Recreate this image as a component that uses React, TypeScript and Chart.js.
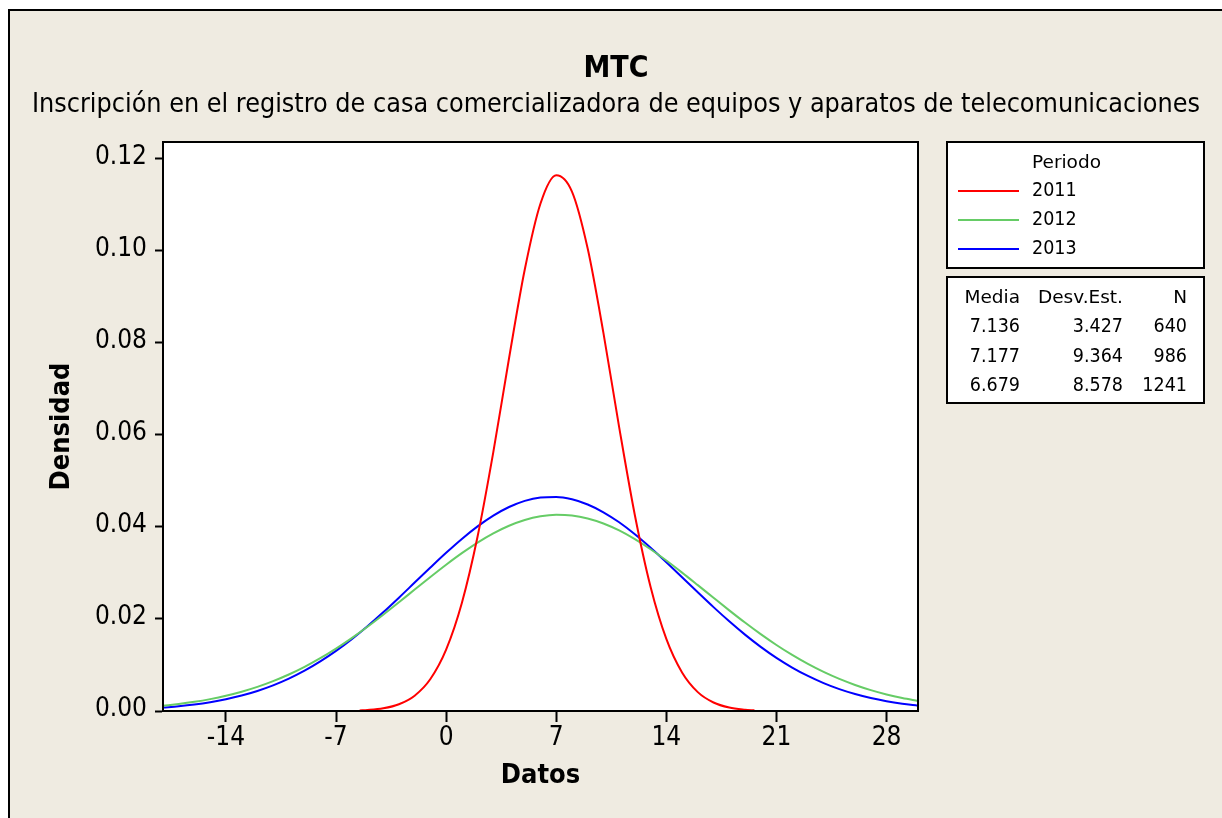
import React, { useEffect, useRef } from 'react';
import { Chart, registerables } from 'chart.js';

Chart.register(...registerables);

const FONT = "'DejaVu Sans Condensed', 'DejaVu Sans', sans-serif";
const FONT_WIDE = "'DejaVu Sans', sans-serif";

const titleText = 'MTC';
const subtitleText =
  'Inscripción en el registro de casa comercializadora de equipos y aparatos de telecomunicaciones';
const xAxisTitle = 'Datos';
const yAxisTitle = 'Densidad';
const legendTitle = 'Periodo';
const seriesNames = ['2011', '2012', '2013'];
const seriesColors = ['#FF0000', '#66CC66', '#0000FF'];
const statsHeader = ['Media', 'Desv.Est.', 'N'];
const statsMedia = ['7.136', '7.177', '6.679'];
const statsDesv = ['3.427', '9.364', '8.578'];
const statsN = ['640', '986', '1241'];

const xTicks = [-14, -7, 0, 7, 14, 21, 28];
const yTicks = [0, 0.02, 0.04, 0.06, 0.08, 0.1, 0.12];

// 2011 curve
const x2011 = [-5.5, -5, -4, -3, -2, -1, 0, 1, 2, 3, 4, 5, 6, 7, 8, 9, 10, 11, 12, 13, 14, 15, 16, 17, 18, 19, 19.6];
const y2011 = [
  0.00013, 0.00022, 0.00059, 0.00147, 0.00333, 0.00695, 0.01332, 0.02344, 0.03787, 0.05619, 0.07659,
  0.09585, 0.11018, 0.11632, 0.11277, 0.1004, 0.0821, 0.06165, 0.04251, 0.02693, 0.01566, 0.00837,
  0.0041, 0.00185, 0.00076, 0.00029, 0.00014,
];

// 2012 and 2013 curves
const xWide = [
  -18, -17, -16, -15, -14, -13, -12, -11, -10, -9, -8, -7, -6, -5, -4, -3, -2, -1, 0, 1, 2, 3, 4, 5, 6, 7,
  8, 9, 10, 11, 12, 13, 14, 15, 16, 17, 18, 19, 20, 21, 22, 23, 24, 25, 26, 27, 28, 29, 30,
];
const y2012 = [
  0.00115, 0.00152, 0.00199, 0.00258, 0.0033, 0.00418, 0.00523, 0.00648, 0.00792, 0.00958, 0.01146,
  0.01355, 0.01583, 0.01829, 0.0209, 0.0236, 0.02636, 0.0291, 0.03176, 0.03427, 0.03657, 0.03857,
  0.04022, 0.04147, 0.04227, 0.0426, 0.04244, 0.0418, 0.04071, 0.0392, 0.03731, 0.03511, 0.03267,
  0.03005, 0.02733, 0.02458, 0.02185, 0.0192, 0.01668, 0.01433, 0.01217, 0.01022, 0.00848, 0.00696,
  0.00565, 0.00453, 0.00359, 0.00282, 0.00219,
];
const y2013 = [
  0.00074, 0.00103, 0.00141, 0.00191, 0.00255, 0.00335, 0.00435, 0.00556, 0.00702, 0.00875, 0.01076,
  0.01304, 0.0156, 0.01841, 0.02143, 0.02461, 0.02788, 0.03115, 0.03435, 0.03736, 0.04008, 0.04242,
  0.04429, 0.04563, 0.04636, 0.04648, 0.04596, 0.04484, 0.04315, 0.04097, 0.03837, 0.03545, 0.03231,
  0.02905, 0.02577, 0.02255, 0.01947, 0.01658, 0.01393, 0.01154, 0.00944, 0.00761, 0.00606, 0.00475,
  0.00368, 0.00281, 0.00212, 0.00158, 0.00116,
];

const xMin = -18;
const xMax = 30;
const yMin = 0;
const yMax = 0.12354;

const toPoints = (xs: number[], ys: number[]) => xs.map((x, i) => ({ x, y: ys[i] }));

const decorPlugin = {
  id: 'decor',
  beforeDatasetsDraw(chart: any) {
    const { ctx, chartArea: a } = chart;
    ctx.save();
    ctx.fillStyle = '#FFFFFF';
    ctx.fillRect(a.left, a.top, a.right - a.left, a.bottom - a.top);
    ctx.restore();
  },
  afterDraw(chart: any) {
    const { ctx, chartArea: a } = chart;
    ctx.save();
    ctx.strokeStyle = '#000000';
    ctx.lineWidth = 2;
    ctx.strokeRect(a.left, a.top, a.right - a.left, a.bottom - a.top);

    // Legend box 1
    const bx = a.right + 29;
    const bw = 257;
    const b1y = a.top;
    const bh = 126;
    ctx.fillStyle = '#FFFFFF';
    ctx.fillRect(bx, b1y, bw, bh);
    ctx.strokeRect(bx, b1y, bw, bh);

    const wordFont = `18.5px ${FONT_WIDE}`;
    const numFont = `19.5px ${FONT}`;

    ctx.fillStyle = '#000000';
    ctx.textBaseline = 'middle';
    ctx.textAlign = 'left';
    ctx.font = wordFont;
    ctx.fillText(legendTitle, bx + 85, b1y + 21);
    ctx.font = numFont;
    const rowYs = [49, 78, 107];
    seriesNames.forEach((name, i) => {
      const y = b1y + rowYs[i];
      ctx.strokeStyle = seriesColors[i];
      ctx.lineWidth = 2;
      ctx.beginPath();
      ctx.moveTo(bx + 11, y);
      ctx.lineTo(bx + 72, y);
      ctx.stroke();
      ctx.fillStyle = '#000000';
      ctx.fillText(name, bx + 85, y);
    });

    // Legend box 2 (stats)
    const b2y = a.top + 135;
    ctx.strokeStyle = '#000000';
    ctx.lineWidth = 2;
    ctx.fillStyle = '#FFFFFF';
    ctx.fillRect(bx, b2y, bw, bh);
    ctx.strokeRect(bx, b2y, bw, bh);
    ctx.fillStyle = '#000000';
    ctx.textAlign = 'right';
    const colXs = [73, 176, 240];
    ctx.font = wordFont;
    ctx.fillText(statsHeader[0], bx + colXs[0], b2y + 21);
    ctx.fillText(statsHeader[1], bx + colXs[1], b2y + 21);
    ctx.fillText(statsHeader[2], bx + colXs[2], b2y + 21);
    ctx.font = numFont;
    const statYs = [50, 79.5, 108.5];
    for (let i = 0; i < statsMedia.length; i++) {
      ctx.fillText(statsMedia[i], bx + colXs[0], b2y + statYs[i]);
      ctx.fillText(statsDesv[i], bx + colXs[1], b2y + statYs[i]);
      ctx.fillText(statsN[i], bx + colXs[2], b2y + statYs[i]);
    }
    ctx.restore();
  },
};

export default function App() {
  const canvasRef = useRef<HTMLCanvasElement | null>(null);

  useEffect(() => {
    if (!canvasRef.current) return;
    const chart = new Chart(canvasRef.current, {
      type: 'line',
      data: {
        datasets: [
          {
            label: seriesNames[0],
            data: toPoints(x2011, y2011),
            borderColor: seriesColors[0],
            borderWidth: 2,
            pointRadius: 0,
            fill: false,
            cubicInterpolationMode: 'monotone',
          },
          {
            label: seriesNames[1],
            data: toPoints(xWide, y2012),
            borderColor: seriesColors[1],
            borderWidth: 2,
            pointRadius: 0,
            fill: false,
            cubicInterpolationMode: 'monotone',
          },
          {
            label: seriesNames[2],
            data: toPoints(xWide, y2013),
            borderColor: seriesColors[2],
            borderWidth: 2,
            pointRadius: 0,
            fill: false,
            cubicInterpolationMode: 'monotone',
          },
        ],
      },
      options: {
        responsive: false,
        animation: false,
        devicePixelRatio: 1,
        layout: { padding: { left: 10, right: 0, top: 0, bottom: 0 } },
        plugins: {
          legend: { display: false },
          tooltip: { enabled: false },
          title: {
            display: true,
            text: titleText,
            color: '#000000',
            font: { family: FONT, size: 30, weight: 'bold', lineHeight: 1.2 },
            padding: { top: 51, bottom: 0 },
          },
          subtitle: {
            display: true,
            text: subtitleText,
            color: '#000000',
            font: { family: FONT, size: 26.7, lineHeight: 1.2 },
            padding: { top: 2, bottom: 20.96 },
          },
        },
        scales: {
          x: {
            type: 'linear',
            position: 'bottom',
            min: xMin,
            max: xMax,
            afterBuildTicks: (s: any) => {
              s.ticks = xTicks.map((v) => ({ value: v }));
            },
            afterFit: (s: any) => {
              s.height = 107;
            },
            ticks: {
              color: '#000000',
              font: { family: FONT, size: 26, lineHeight: 1.2 },
              padding: 1,
              autoSkip: false,
              maxRotation: 0,
              callback: (v: any) => String(v),
            },
            grid: {
              drawOnChartArea: false,
              drawTicks: true,
              tickLength: 11,
              tickWidth: 2,
              tickColor: '#000000',
            },
            border: { display: true, color: '#000000', width: 2 },
            title: {
              display: true,
              text: xAxisTitle,
              color: '#000000',
              font: { family: FONT, size: 27, weight: 'bold', lineHeight: 1.2 },
              padding: { top: 0, bottom: 26.3 },
            },
          },
          y: {
            type: 'linear',
            position: 'left',
            min: yMin,
            max: yMax,
            afterBuildTicks: (s: any) => {
              s.ticks = yTicks.map((v) => ({ value: v }));
            },
            afterFit: (s: any) => {
              s.width = 153;
            },
            ticks: {
              color: '#000000',
              font: { family: FONT, size: 26, lineHeight: 1.2 },
              padding: 8,
              labelOffset: -1.5,
              callback: (v: any) => Number(v).toFixed(2),
            },
            grid: {
              drawOnChartArea: false,
              drawTicks: true,
              tickLength: 8,
              tickWidth: 2,
              tickColor: '#000000',
            },
            border: { display: true, color: '#000000', width: 2 },
            title: {
              display: true,
              text: yAxisTitle,
              color: '#000000',
              font: { family: FONT, size: 27, weight: 'bold', lineHeight: 1.2 },
              padding: { top: 35.3, bottom: 0 },
            },
          },
          yPad: {
            type: 'linear',
            position: 'right',
            display: true,
            afterFit: (s: any) => {
              s.width = 304;
            },
            ticks: { display: false },
            grid: { display: false, drawTicks: false },
            border: { display: false },
            title: { display: false },
          },
        },
      },
      plugins: [decorPlugin],
    } as any);
    return () => {
      chart.destroy();
    };
  }, []);

  return (
    <div
      style={{
        position: 'fixed',
        left: 0,
        top: 0,
        width: 1222,
        height: 818,
        overflow: 'hidden',
        background: '#FFFFFF',
      }}
    >
      <div
        style={{
          position: 'absolute',
          left: 8,
          top: 9,
          width: 1230,
          height: 830,
          boxSizing: 'border-box',
          border: '2px solid #000000',
          background: '#EFEBE1',
        }}
      />
      <canvas
        ref={canvasRef}
        width={1222}
        height={818}
        style={{ position: 'absolute', left: 0, top: 0, width: 1222, height: 818, display: 'block' }}
      />
    </div>
  );
}
